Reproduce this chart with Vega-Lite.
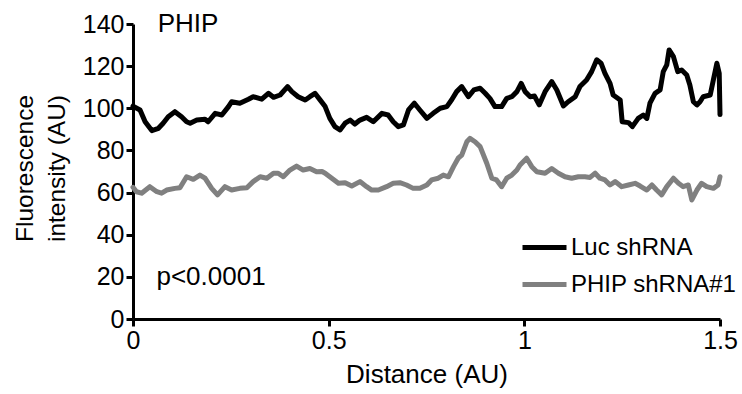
{
  "$schema": "https://vega.github.io/schema/vega-lite/v6.json",
  "width": 587,
  "height": 295,
  "autosize": {"type": "none"},
  "padding": {"left": 133, "top": 24, "right": 22, "bottom": 75},
  "background": "white",
  "config": {
    "view": {"stroke": null},
    "font": "Liberation Sans",
    "axis": {
      "grid": false,
      "domainColor": "black",
      "domainWidth": 3,
      "tickColor": "black",
      "tickWidth": 3,
      "tickSize": 7,
      "labelFont": "Liberation Sans",
      "labelFontSize": 25,
      "labelColor": "black",
      "labelPadding": 2,
      "titleFont": "Liberation Sans",
      "titleFontSize": 25,
      "titleFontWeight": "normal",
      "titleColor": "black"
    },
    "legend": {
      "labelFont": "Liberation Sans",
      "labelFontSize": 24,
      "labelColor": "black",
      "labelLimit": 0
    }
  },
  "datasets": {
    "profiles": [
      {"s": "Luc shRNA", "x": 0, "y": 101},
      {"s": "Luc shRNA", "x": 0.018, "y": 99.2},
      {"s": "Luc shRNA", "x": 0.031, "y": 93.6},
      {"s": "Luc shRNA", "x": 0.048, "y": 89.4},
      {"s": "Luc shRNA", "x": 0.065, "y": 90.5},
      {"s": "Luc shRNA", "x": 0.077, "y": 92.9},
      {"s": "Luc shRNA", "x": 0.090, "y": 96.0},
      {"s": "Luc shRNA", "x": 0.107, "y": 98.4},
      {"s": "Luc shRNA", "x": 0.124, "y": 96.0},
      {"s": "Luc shRNA", "x": 0.137, "y": 93.6},
      {"s": "Luc shRNA", "x": 0.146, "y": 92.9},
      {"s": "Luc shRNA", "x": 0.163, "y": 94.4},
      {"s": "Luc shRNA", "x": 0.184, "y": 94.8},
      {"s": "Luc shRNA", "x": 0.192, "y": 93.6},
      {"s": "Luc shRNA", "x": 0.210, "y": 97.6},
      {"s": "Luc shRNA", "x": 0.227, "y": 96.8},
      {"s": "Luc shRNA", "x": 0.244, "y": 100.8},
      {"s": "Luc shRNA", "x": 0.252, "y": 103.1},
      {"s": "Luc shRNA", "x": 0.273, "y": 102.4},
      {"s": "Luc shRNA", "x": 0.295, "y": 104.3},
      {"s": "Luc shRNA", "x": 0.307, "y": 105.5},
      {"s": "Luc shRNA", "x": 0.329, "y": 104.3},
      {"s": "Luc shRNA", "x": 0.346, "y": 107.1},
      {"s": "Luc shRNA", "x": 0.359, "y": 105.2},
      {"s": "Luc shRNA", "x": 0.376, "y": 106.3},
      {"s": "Luc shRNA", "x": 0.395, "y": 110.3},
      {"s": "Luc shRNA", "x": 0.406, "y": 107.9},
      {"s": "Luc shRNA", "x": 0.422, "y": 105.5},
      {"s": "Luc shRNA", "x": 0.440, "y": 103.9},
      {"s": "Luc shRNA", "x": 0.452, "y": 105.5},
      {"s": "Luc shRNA", "x": 0.465, "y": 107.1},
      {"s": "Luc shRNA", "x": 0.478, "y": 104.0},
      {"s": "Luc shRNA", "x": 0.491, "y": 100.8},
      {"s": "Luc shRNA", "x": 0.503, "y": 95.2},
      {"s": "Luc shRNA", "x": 0.516, "y": 91.3},
      {"s": "Luc shRNA", "x": 0.529, "y": 89.7},
      {"s": "Luc shRNA", "x": 0.542, "y": 92.9},
      {"s": "Luc shRNA", "x": 0.555, "y": 94.4},
      {"s": "Luc shRNA", "x": 0.567, "y": 92.5},
      {"s": "Luc shRNA", "x": 0.580, "y": 94.4},
      {"s": "Luc shRNA", "x": 0.597, "y": 95.7},
      {"s": "Luc shRNA", "x": 0.614, "y": 93.6},
      {"s": "Luc shRNA", "x": 0.636, "y": 97.6},
      {"s": "Luc shRNA", "x": 0.652, "y": 96.8},
      {"s": "Luc shRNA", "x": 0.665, "y": 93.6},
      {"s": "Luc shRNA", "x": 0.678, "y": 91.3},
      {"s": "Luc shRNA", "x": 0.691, "y": 92.1},
      {"s": "Luc shRNA", "x": 0.704, "y": 99.2},
      {"s": "Luc shRNA", "x": 0.719, "y": 102.4},
      {"s": "Luc shRNA", "x": 0.733, "y": 99.2},
      {"s": "Luc shRNA", "x": 0.751, "y": 95.2},
      {"s": "Luc shRNA", "x": 0.767, "y": 97.6},
      {"s": "Luc shRNA", "x": 0.785, "y": 100.0},
      {"s": "Luc shRNA", "x": 0.802, "y": 100.8},
      {"s": "Luc shRNA", "x": 0.814, "y": 103.9},
      {"s": "Luc shRNA", "x": 0.827, "y": 107.9},
      {"s": "Luc shRNA", "x": 0.840, "y": 110.3},
      {"s": "Luc shRNA", "x": 0.857, "y": 105.5},
      {"s": "Luc shRNA", "x": 0.871, "y": 108.7},
      {"s": "Luc shRNA", "x": 0.887, "y": 109.5},
      {"s": "Luc shRNA", "x": 0.900, "y": 107.1},
      {"s": "Luc shRNA", "x": 0.912, "y": 104.7},
      {"s": "Luc shRNA", "x": 0.925, "y": 100.8},
      {"s": "Luc shRNA", "x": 0.942, "y": 100.8},
      {"s": "Luc shRNA", "x": 0.955, "y": 104.7},
      {"s": "Luc shRNA", "x": 0.968, "y": 105.5},
      {"s": "Luc shRNA", "x": 0.981, "y": 107.9},
      {"s": "Luc shRNA", "x": 0.992, "y": 111.8},
      {"s": "Luc shRNA", "x": 1.002, "y": 107.9},
      {"s": "Luc shRNA", "x": 1.015, "y": 105.5},
      {"s": "Luc shRNA", "x": 1.026, "y": 105.8},
      {"s": "Luc shRNA", "x": 1.038, "y": 101.6},
      {"s": "Luc shRNA", "x": 1.053, "y": 107.9},
      {"s": "Luc shRNA", "x": 1.070, "y": 112.7},
      {"s": "Luc shRNA", "x": 1.083, "y": 108.7},
      {"s": "Luc shRNA", "x": 1.100, "y": 101.1},
      {"s": "Luc shRNA", "x": 1.112, "y": 103.1},
      {"s": "Luc shRNA", "x": 1.130, "y": 105.5},
      {"s": "Luc shRNA", "x": 1.142, "y": 110.3},
      {"s": "Luc shRNA", "x": 1.159, "y": 113.4},
      {"s": "Luc shRNA", "x": 1.172, "y": 117.4},
      {"s": "Luc shRNA", "x": 1.185, "y": 123.0},
      {"s": "Luc shRNA", "x": 1.196, "y": 121.4},
      {"s": "Luc shRNA", "x": 1.206, "y": 116.6},
      {"s": "Luc shRNA", "x": 1.219, "y": 111.8},
      {"s": "Luc shRNA", "x": 1.227, "y": 106.3},
      {"s": "Luc shRNA", "x": 1.245, "y": 103.9},
      {"s": "Luc shRNA", "x": 1.250, "y": 93.6},
      {"s": "Luc shRNA", "x": 1.266, "y": 93.2},
      {"s": "Luc shRNA", "x": 1.276, "y": 91.3},
      {"s": "Luc shRNA", "x": 1.291, "y": 95.2},
      {"s": "Luc shRNA", "x": 1.304, "y": 96.8},
      {"s": "Luc shRNA", "x": 1.313, "y": 95.2},
      {"s": "Luc shRNA", "x": 1.321, "y": 102.4},
      {"s": "Luc shRNA", "x": 1.334, "y": 107.1},
      {"s": "Luc shRNA", "x": 1.347, "y": 108.7},
      {"s": "Luc shRNA", "x": 1.355, "y": 117.4},
      {"s": "Luc shRNA", "x": 1.364, "y": 120.6},
      {"s": "Luc shRNA", "x": 1.370, "y": 127.7},
      {"s": "Luc shRNA", "x": 1.381, "y": 124.5},
      {"s": "Luc shRNA", "x": 1.392, "y": 117.4},
      {"s": "Luc shRNA", "x": 1.402, "y": 118.2},
      {"s": "Luc shRNA", "x": 1.415, "y": 115.8},
      {"s": "Luc shRNA", "x": 1.423, "y": 111.1},
      {"s": "Luc shRNA", "x": 1.432, "y": 103.1},
      {"s": "Luc shRNA", "x": 1.441, "y": 101.6},
      {"s": "Luc shRNA", "x": 1.449, "y": 103.1},
      {"s": "Luc shRNA", "x": 1.457, "y": 105.5},
      {"s": "Luc shRNA", "x": 1.475, "y": 106.3},
      {"s": "Luc shRNA", "x": 1.483, "y": 113.4},
      {"s": "Luc shRNA", "x": 1.492, "y": 121.4},
      {"s": "Luc shRNA", "x": 1.498, "y": 116.6},
      {"s": "Luc shRNA", "x": 1.5, "y": 97},
      {"s": "PHIP shRNA#1", "x": 0, "y": 62.5},
      {"s": "PHIP shRNA#1", "x": 0.009, "y": 60.4},
      {"s": "PHIP shRNA#1", "x": 0.022, "y": 59.7},
      {"s": "PHIP shRNA#1", "x": 0.043, "y": 62.8},
      {"s": "PHIP shRNA#1", "x": 0.061, "y": 60.4},
      {"s": "PHIP shRNA#1", "x": 0.073, "y": 59.7},
      {"s": "PHIP shRNA#1", "x": 0.086, "y": 61.2},
      {"s": "PHIP shRNA#1", "x": 0.107, "y": 62.0},
      {"s": "PHIP shRNA#1", "x": 0.120, "y": 62.3},
      {"s": "PHIP shRNA#1", "x": 0.137, "y": 67.5},
      {"s": "PHIP shRNA#1", "x": 0.154, "y": 66.3},
      {"s": "PHIP shRNA#1", "x": 0.171, "y": 68.3},
      {"s": "PHIP shRNA#1", "x": 0.184, "y": 66.8},
      {"s": "PHIP shRNA#1", "x": 0.201, "y": 62.0},
      {"s": "PHIP shRNA#1", "x": 0.216, "y": 58.9},
      {"s": "PHIP shRNA#1", "x": 0.235, "y": 62.8},
      {"s": "PHIP shRNA#1", "x": 0.252, "y": 61.2},
      {"s": "PHIP shRNA#1", "x": 0.273, "y": 62.0},
      {"s": "PHIP shRNA#1", "x": 0.291, "y": 62.3},
      {"s": "PHIP shRNA#1", "x": 0.307, "y": 65.2},
      {"s": "PHIP shRNA#1", "x": 0.325, "y": 67.5},
      {"s": "PHIP shRNA#1", "x": 0.342, "y": 66.8},
      {"s": "PHIP shRNA#1", "x": 0.359, "y": 69.2},
      {"s": "PHIP shRNA#1", "x": 0.371, "y": 69.2},
      {"s": "PHIP shRNA#1", "x": 0.384, "y": 67.5},
      {"s": "PHIP shRNA#1", "x": 0.401, "y": 70.7},
      {"s": "PHIP shRNA#1", "x": 0.418, "y": 72.6},
      {"s": "PHIP shRNA#1", "x": 0.435, "y": 70.7},
      {"s": "PHIP shRNA#1", "x": 0.452, "y": 71.4},
      {"s": "PHIP shRNA#1", "x": 0.469, "y": 69.9},
      {"s": "PHIP shRNA#1", "x": 0.483, "y": 70.0},
      {"s": "PHIP shRNA#1", "x": 0.491, "y": 69.2},
      {"s": "PHIP shRNA#1", "x": 0.508, "y": 66.8},
      {"s": "PHIP shRNA#1", "x": 0.525, "y": 64.4},
      {"s": "PHIP shRNA#1", "x": 0.542, "y": 64.7},
      {"s": "PHIP shRNA#1", "x": 0.559, "y": 63.1},
      {"s": "PHIP shRNA#1", "x": 0.580, "y": 65.2},
      {"s": "PHIP shRNA#1", "x": 0.597, "y": 62.8},
      {"s": "PHIP shRNA#1", "x": 0.610, "y": 61.2},
      {"s": "PHIP shRNA#1", "x": 0.627, "y": 61.2},
      {"s": "PHIP shRNA#1", "x": 0.648, "y": 62.8},
      {"s": "PHIP shRNA#1", "x": 0.665, "y": 64.4},
      {"s": "PHIP shRNA#1", "x": 0.682, "y": 64.7},
      {"s": "PHIP shRNA#1", "x": 0.699, "y": 63.6},
      {"s": "PHIP shRNA#1", "x": 0.716, "y": 62.0},
      {"s": "PHIP shRNA#1", "x": 0.733, "y": 62.0},
      {"s": "PHIP shRNA#1", "x": 0.751, "y": 63.6},
      {"s": "PHIP shRNA#1", "x": 0.763, "y": 66.0},
      {"s": "PHIP shRNA#1", "x": 0.780, "y": 66.8},
      {"s": "PHIP shRNA#1", "x": 0.793, "y": 68.3},
      {"s": "PHIP shRNA#1", "x": 0.806, "y": 67.5},
      {"s": "PHIP shRNA#1", "x": 0.819, "y": 72.3},
      {"s": "PHIP shRNA#1", "x": 0.831, "y": 76.3},
      {"s": "PHIP shRNA#1", "x": 0.840, "y": 77.8},
      {"s": "PHIP shRNA#1", "x": 0.853, "y": 84.1},
      {"s": "PHIP shRNA#1", "x": 0.861, "y": 85.7},
      {"s": "PHIP shRNA#1", "x": 0.874, "y": 84.1},
      {"s": "PHIP shRNA#1", "x": 0.887, "y": 81.8},
      {"s": "PHIP shRNA#1", "x": 0.904, "y": 73.9},
      {"s": "PHIP shRNA#1", "x": 0.917, "y": 66.8},
      {"s": "PHIP shRNA#1", "x": 0.929, "y": 66.0},
      {"s": "PHIP shRNA#1", "x": 0.942, "y": 62.8},
      {"s": "PHIP shRNA#1", "x": 0.955, "y": 66.8},
      {"s": "PHIP shRNA#1", "x": 0.968, "y": 68.3},
      {"s": "PHIP shRNA#1", "x": 0.981, "y": 70.7},
      {"s": "PHIP shRNA#1", "x": 0.989, "y": 73.1},
      {"s": "PHIP shRNA#1", "x": 1.006, "y": 76.3},
      {"s": "PHIP shRNA#1", "x": 1.019, "y": 72.3},
      {"s": "PHIP shRNA#1", "x": 1.032, "y": 69.9},
      {"s": "PHIP shRNA#1", "x": 1.053, "y": 69.2},
      {"s": "PHIP shRNA#1", "x": 1.070, "y": 71.4},
      {"s": "PHIP shRNA#1", "x": 1.087, "y": 69.2},
      {"s": "PHIP shRNA#1", "x": 1.104, "y": 67.5},
      {"s": "PHIP shRNA#1", "x": 1.121, "y": 66.8},
      {"s": "PHIP shRNA#1", "x": 1.138, "y": 67.5},
      {"s": "PHIP shRNA#1", "x": 1.155, "y": 67.5},
      {"s": "PHIP shRNA#1", "x": 1.168, "y": 67.2},
      {"s": "PHIP shRNA#1", "x": 1.181, "y": 69.2},
      {"s": "PHIP shRNA#1", "x": 1.193, "y": 66.8},
      {"s": "PHIP shRNA#1", "x": 1.206, "y": 66.0},
      {"s": "PHIP shRNA#1", "x": 1.219, "y": 63.6},
      {"s": "PHIP shRNA#1", "x": 1.232, "y": 65.2},
      {"s": "PHIP shRNA#1", "x": 1.249, "y": 62.8},
      {"s": "PHIP shRNA#1", "x": 1.266, "y": 63.6},
      {"s": "PHIP shRNA#1", "x": 1.283, "y": 64.4},
      {"s": "PHIP shRNA#1", "x": 1.296, "y": 63.1},
      {"s": "PHIP shRNA#1", "x": 1.313, "y": 61.2},
      {"s": "PHIP shRNA#1", "x": 1.326, "y": 63.6},
      {"s": "PHIP shRNA#1", "x": 1.338, "y": 61.2},
      {"s": "PHIP shRNA#1", "x": 1.351, "y": 58.9},
      {"s": "PHIP shRNA#1", "x": 1.364, "y": 62.8},
      {"s": "PHIP shRNA#1", "x": 1.381, "y": 66.8},
      {"s": "PHIP shRNA#1", "x": 1.394, "y": 64.4},
      {"s": "PHIP shRNA#1", "x": 1.406, "y": 62.8},
      {"s": "PHIP shRNA#1", "x": 1.419, "y": 63.6},
      {"s": "PHIP shRNA#1", "x": 1.428, "y": 56.5},
      {"s": "PHIP shRNA#1", "x": 1.441, "y": 61.2},
      {"s": "PHIP shRNA#1", "x": 1.453, "y": 64.4},
      {"s": "PHIP shRNA#1", "x": 1.466, "y": 62.8},
      {"s": "PHIP shRNA#1", "x": 1.483, "y": 62.0},
      {"s": "PHIP shRNA#1", "x": 1.495, "y": 63.6},
      {"s": "PHIP shRNA#1", "x": 1.5, "y": 67.5}
    ],
    "notes": [
      {"label": "PHIP", "x": 0.063, "y": 136},
      {"label": "p<0.0001", "x": 0.06, "y": 16}
    ]
  },
  "layer": [
    {
      "data": {"name": "profiles"},
      "mark": {"type": "line", "strokeWidth": 5, "strokeJoin": "round", "strokeCap": "round", "clip": false},
      "encoding": {
        "x": {
          "field": "x",
          "type": "quantitative",
          "scale": {"domain": [0, 1.5], "nice": false, "zero": false},
          "axis": {
            "title": "Distance (AU)",
            "values": [0, 0.5, 1, 1.5],
            "format": "~g",
            "labelFlush": false,
            "titleFontSize": 26,
            "titlePadding": 8
          }
        },
        "y": {
          "field": "y",
          "type": "quantitative",
          "scale": {"domain": [0, 140], "nice": false},
          "axis": {
            "title": ["Fluorescence", "intensity (AU)"],
            "values": [0, 20, 40, 60, 80, 100, 120, 140],
            "titleFontSize": 24.5,
            "titleAngle": -90,
            "titleAlign": "center",
            "titleBaseline": "alphabetic",
            "titleLineHeight": 32,
            "titleX": -101,
            "titleY": 144
          }
        },
        "color": {
          "field": "s",
          "type": "nominal",
          "scale": {"domain": ["Luc shRNA", "PHIP shRNA#1"], "range": ["black", "#808080"]},
          "legend": {
            "title": null,
            "orient": "none",
            "legendX": 387,
            "legendY": 199,
            "padding": 0,
            "symbolType": "stroke",
            "symbolSize": 1936,
            "symbolStrokeWidth": 5,
            "labelOffset": 2,
            "rowPadding": -8
          }
        }
      }
    },
    {
      "data": {"name": "notes"},
      "mark": {"type": "text", "align": "left", "baseline": "alphabetic", "fontSize": 26, "font": "Liberation Sans", "color": "black"},
      "encoding": {
        "x": {"field": "x", "type": "quantitative"},
        "y": {"field": "y", "type": "quantitative"},
        "text": {"field": "label"}
      }
    }
  ]
}
